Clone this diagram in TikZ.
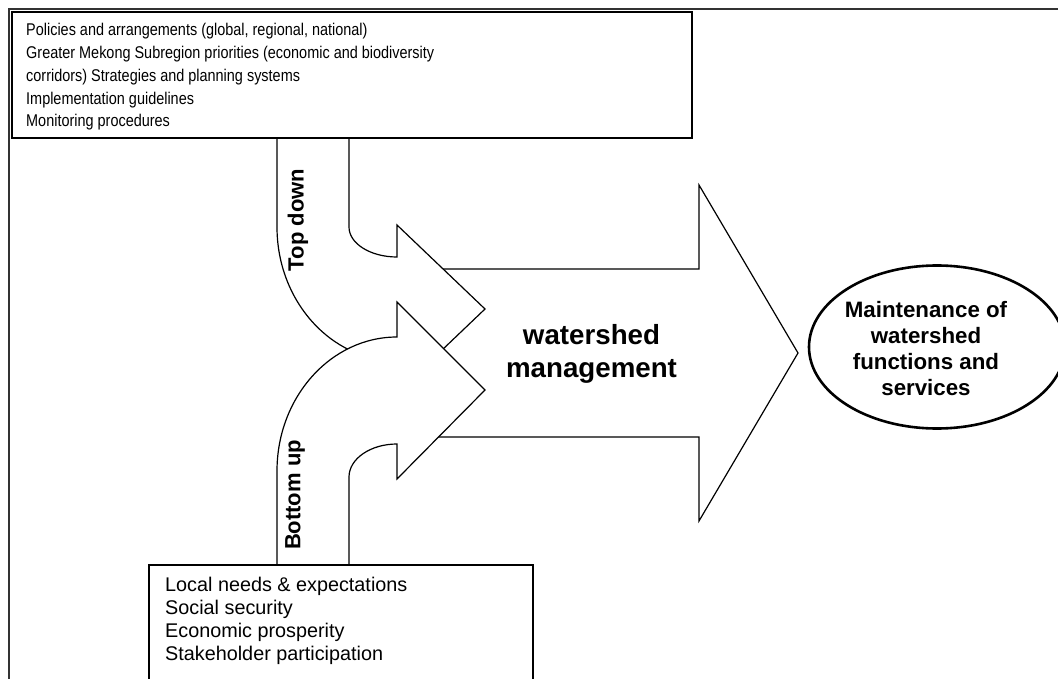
\documentclass[tikz,border=0pt]{standalone}
\usepackage{fontspec}
\setmainfont{Liberation Sans}
\newfontfamily\narrowfont{Liberation Sans}[FakeStretch=0.85]
\begin{document}
\begin{tikzpicture}[x=1pt,y=-1pt,
  arrowshape/.style={draw=black, fill=white, line width=1.2pt, line join=miter},
  textbox/.style={draw=black, fill=white, line width=1.6pt},
  framestyle/.style={draw=black!80, line width=1.8pt},
  goal/.style={draw=black, fill=white, line width=2.6pt},
  listtext/.style={anchor=base west, inner sep=0pt, align=left},
  boldlabel/.style={inner sep=0pt, align=center, font=\bfseries}]
\clip (0,0) rectangle (1058,679);
\fill[white] (0,0) rectangle (1058,679);
% outer frame
\draw[framestyle] (9,9) rectangle (1090,710);
% main arrow
\draw[arrowshape] (420,269) -- (699,269) -- (699,185) -- (798,353) -- (699,521) -- (699,437) -- (420,437) -- cycle;
% top-down arrow
\draw[arrowshape] (277,138) -- (277,227) .. controls (277,301) and (331,361) .. (397,361)
  -- (397,393) -- (485,309) -- (397,225) -- (397,257)
  .. controls (370.5,257) and (349,243.6) .. (349,227) -- (349,138) -- cycle;
% bottom-up arrow
\draw[arrowshape] (277,565) -- (277,471) .. controls (277,397) and (331,337) .. (397,337)
  -- (397,302) -- (485,390) -- (397,479) -- (397,444)
  .. controls (370.5,444) and (349,458.8) .. (349,477) -- (349,565) -- cycle;
% boxes
\draw[textbox] (12,12) rectangle (692,138);
\draw[textbox] (149,565) rectangle (533,700);
% goal ellipse
\draw[goal] (937,347) ellipse [x radius=128, y radius=81.5];
% texts (base anchor of a multi-line node = baseline of its last line)
\begin{scope}
\clip (12,12) rectangle (692,130);
\node[listtext, font=\narrowfont\fontsize{17}{22.75}\selectfont] (toptext) at (26,127)
  {Policies and arrangements (global, regional, national)\\
   Greater Mekong Subregion priorities (economic and biodiversity\\
   corridors) Strategies and planning systems\\
   Implementation guidelines\\
   Monitoring procedures};
\end{scope}
\node[listtext, font=\fontsize{19.8}{22.7}\selectfont] (bottomtext) at (165,660)
  {Local needs \& expectations\\
   Social security\\
   Economic prosperity\\
   Stakeholder participation};
\node[boldlabel, rotate=90, font=\bfseries\fontsize{22}{26}\selectfont] (topdown) at (298,220) {Top down};
\node[boldlabel, rotate=90, font=\bfseries\fontsize{22}{26}\selectfont] (bottomup) at (295,495) {Bottom up};
\node[boldlabel, font=\bfseries\fontsize{27.7}{33}\selectfont] (wm) at (591.5,354) {watershed\\management};
\node[boldlabel, font=\bfseries\fontsize{22.3}{26}\selectfont] (goaltext) at (926,349) {Maintenance of\\watershed\\functions and\\services};
\end{tikzpicture}
\end{document}
